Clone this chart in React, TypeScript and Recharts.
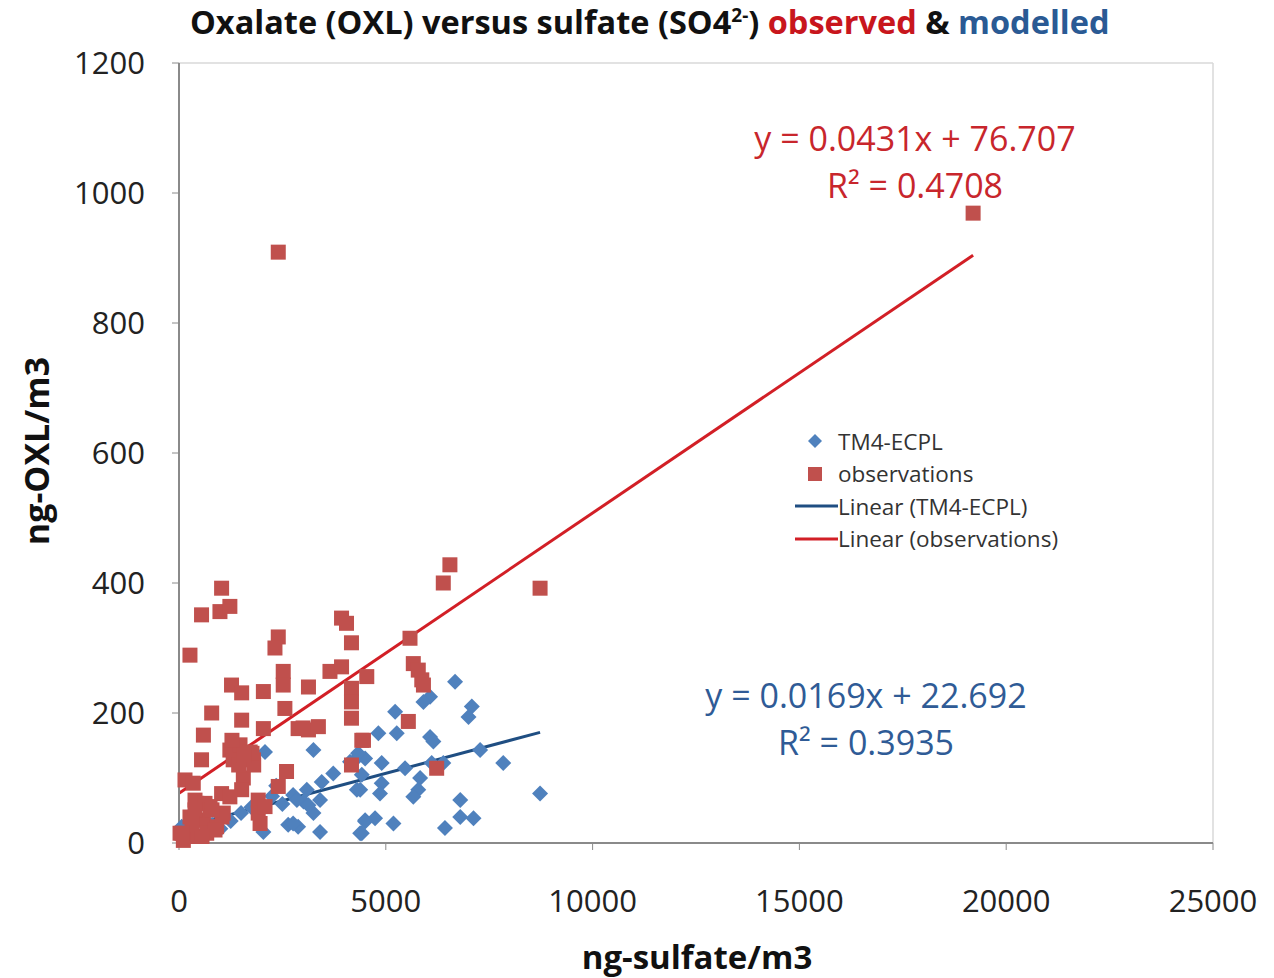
import { ScatterChart, Scatter, XAxis, YAxis, ReferenceLine } from 'recharts'

const xTicks = [0, 5000, 10000, 15000, 20000, 25000]
const yTicks = [0, 200, 400, 600, 800, 1000, 1200]

// observations (red squares)
const obsSulfate = [
  19200, 2400, 8730, 6550, 6390, 1030, 545, 990, 1230, 265, 2400, 2320, 3930, 4050, 4170,
  1270, 1515, 2040, 2520, 2520, 3130, 3650, 3930, 4170, 4170, 4170, 2560, 790, 1515, 2040,
  2880, 3130, 3370, 590, 4420, 1230, 1475, 1720, 1310, 1800, 545, 2600, 2400, 4170, 1555,
  1515, 145, 345, 1030, 1230, 1915, 430, 750, 1070, 1915, 265, 590, 910, 25, 265, 670, 105,
  1960, 5585, 5665, 5785, 5870, 5910, 4540, 5545, 4460, 6230,
  1280, 1443, 1806, 1765, 2080, 1040, 387, 629, 387, 798, 870, 556, 314, 72, 1565, 3000,
]
const obsOxalate = [
  969, 909, 392, 428, 400, 392, 351, 356, 364, 289, 317, 300, 346, 338, 308,
  243, 231, 233, 264, 243, 240, 264, 271, 238, 217, 192, 207, 200, 189, 176,
  176, 174, 179, 166, 158, 143, 151, 140, 128, 128, 128, 110, 87, 120, 100,
  82, 97, 92, 76, 71, 66, 61, 56, 46, 46, 40, 35, 25, 15, 10, 15, 4,
  30, 315, 276, 266, 251, 243, 256, 187, 158, 115,
  158, 120, 120, 138, 56, 40, 66, 61, 51, 51, 20, 10, 30, 15, 135, 177,
]

// TM4-ECPL model (blue diamonds)
const modSulfate = [
  2080, 3250, 4260, 3730, 3450, 3090, 2760, 3010, 3250, 2640, 2880, 3410, 2040, 4300, 4500,
  4380, 65, 6675, 6070, 5910, 7080, 7000, 5225, 4820, 5265, 6070, 6150, 7280, 7840, 4500,
  4900, 5465, 6110, 6390, 4420, 4900, 4860, 5830, 5785, 5665, 4380, 8730, 6800, 6800, 7120,
  6430, 5185, 4740, 4500, 4420, 150, 350, 600, 800, 1000, 1250, 1500, 1750, 2250, 2500, 2350,
  4330, 4135, 3130, 2850, 2760, 3410,
]
const modOxalate = [
  140, 143, 128, 107, 94, 82, 74, 64, 46, 28, 25, 17, 17, 82, 35,
  15, 25, 248, 225, 217, 210, 194, 202, 169, 169, 163, 156, 143, 123, 130,
  123, 115, 123, 123, 105, 92, 76, 100, 82, 71, 82, 76, 66, 40, 38,
  23, 30, 38, 33, 15, 10, 18, 14, 28, 22, 34, 46, 55, 72, 60, 88,
  138, 125, 58, 66, 30, 66,
]

const obsFit = { slope: 0.0431, intercept: 76.707, xMax: 19200 }
const modFit = { slope: 0.0169, intercept: 22.692, xMax: 8730 }

const obsData = obsSulfate.map((x, i) => ({ x, y: obsOxalate[i] }))
const modData = modSulfate.map((x, i) => ({ x, y: modOxalate[i] }))

const RED = '#c0504d'
const BLUE = '#4f81bd'
const RED_LINE = '#d21f26'
const BLUE_LINE = '#1f4e82'
const FONT = '"Open Sans", Lato, sans-serif'

function Square(props: { cx?: number; cy?: number }) {
  const { cx = 0, cy = 0 } = props
  return <rect x={cx - 7.5} y={cy - 7.5} width={15} height={15} fill={RED} />
}

function Diamond(props: { cx?: number; cy?: number }) {
  const { cx = 0, cy = 0 } = props
  const r = 8
  return (
    <polygon
      points={`${cx},${cy - r} ${cx + r},${cy} ${cx},${cy + r} ${cx - r},${cy}`}
      fill={BLUE}
    />
  )
}

function LegendBox() {
  const row = { display: 'flex', alignItems: 'center', height: 32.5 }
  const txt = { fontSize: 22.5, color: '#333', fontFamily: FONT }
  return (
    <div style={{ position: 'absolute', left: 793, top: 425 }}>
      <div style={row}>
        <svg width={45} height={20}>
          <polygon points="22,3 29,10 22,17 15,10" fill={BLUE} />
        </svg>
        <span style={txt}>TM4-ECPL</span>
      </div>
      <div style={row}>
        <svg width={45} height={20}>
          <rect x={15} y={3} width={14} height={14} fill={RED} />
        </svg>
        <span style={txt}>observations</span>
      </div>
      <div style={row}>
        <svg width={45} height={20}>
          <line x1={2} x2={45} y1={10} y2={10} stroke={BLUE_LINE} strokeWidth={3} />
        </svg>
        <span style={txt}>Linear (TM4-ECPL)</span>
      </div>
      <div style={row}>
        <svg width={45} height={20}>
          <line x1={2} x2={45} y1={10} y2={10} stroke={RED_LINE} strokeWidth={3} />
        </svg>
        <span style={txt}>Linear (observations)</span>
      </div>
    </div>
  )
}

export default function App() {
  const tickStyle = { fontSize: 31, fill: '#222', fontFamily: FONT }
  const centered = { position: 'absolute' as const, transform: 'translate(-50%, -50%)', whiteSpace: 'nowrap' as const }
  return (
    <div style={{ position: 'absolute', left: 0, top: 0, width: 1274, height: 978, background: '#fff', fontFamily: FONT }}>
      <div
        style={{
          position: 'absolute',
          left: 190,
          top: -1,
          fontSize: 32.5,
          fontWeight: 700,
          color: '#111',
          whiteSpace: 'nowrap',
        }}
      >
        Oxalate (OXL) versus sulfate (SO4<sup style={{ fontSize: 19 }}>2-</sup>){' '}
        <span style={{ color: '#c8161d' }}>observed</span> &amp;{' '}
        <span style={{ color: '#2a5a94' }}>modelled</span>
      </div>

      <ScatterChart width={1274} height={978} margin={{ top: 63, right: 61, bottom: 75, left: 79 }}>
        <XAxis
          type="number"
          dataKey="x"
          domain={[0, 25000]}
          ticks={xTicks}
          height={60}
          axisLine={{ stroke: '#8a8a8a', strokeWidth: 2 }}
          tickLine={{ stroke: '#8a8a8a' }}
          tickSize={7}
          tickMargin={40}
          tick={tickStyle}
        />
        <YAxis
          type="number"
          dataKey="y"
          domain={[0, 1200]}
          ticks={yTicks}
          width={100}
          axisLine={{ stroke: '#8a8a8a', strokeWidth: 2 }}
          tickLine={{ stroke: '#8a8a8a' }}
          tickSize={7}
          tickMargin={27}
          tick={tickStyle}
        />
        <ReferenceLine y={1200} stroke="#d9d9d9" strokeWidth={1.5} />
        <ReferenceLine x={25000} stroke="#d9d9d9" strokeWidth={1.5} />
        <Scatter data={modData} shape={<Diamond />} isAnimationActive={false} />
        <Scatter data={obsData} shape={<Square />} isAnimationActive={false} />
        <ReferenceLine
          segment={[
            { x: 0, y: modFit.intercept },
            { x: modFit.xMax, y: modFit.intercept + modFit.slope * modFit.xMax },
          ]}
          stroke={BLUE_LINE}
          strokeWidth={3}
        />
        <ReferenceLine
          segment={[
            { x: 0, y: obsFit.intercept },
            { x: obsFit.xMax, y: obsFit.intercept + obsFit.slope * obsFit.xMax },
          ]}
          stroke={RED_LINE}
          strokeWidth={3}
        />
      </ScatterChart>

      <LegendBox />

      <div
        style={{
          position: 'absolute',
          left: 36,
          top: 451,
          transform: 'translate(-50%, -50%) rotate(-90deg)',
          fontSize: 34,
          fontWeight: 700,
          color: '#111',
          whiteSpace: 'nowrap',
        }}
      >
        ng-OXL/m3
      </div>
      <div style={{ ...centered, left: 697, top: 956, fontSize: 33, fontWeight: 700, color: '#111' }}>
        ng-sulfate/m3
      </div>

      <div style={{ ...centered, left: 915, top: 138, fontSize: 34, color: '#c8262c' }}>y = 0.0431x + 76.707</div>
      <div style={{ ...centered, left: 915, top: 185, fontSize: 34, color: '#c8262c' }}>R² = 0.4708</div>
      <div style={{ ...centered, left: 866, top: 695, fontSize: 34, color: '#2f5b96' }}>y = 0.0169x + 22.692</div>
      <div style={{ ...centered, left: 866, top: 742, fontSize: 34, color: '#2f5b96' }}>R² = 0.3935</div>
    </div>
  )
}
